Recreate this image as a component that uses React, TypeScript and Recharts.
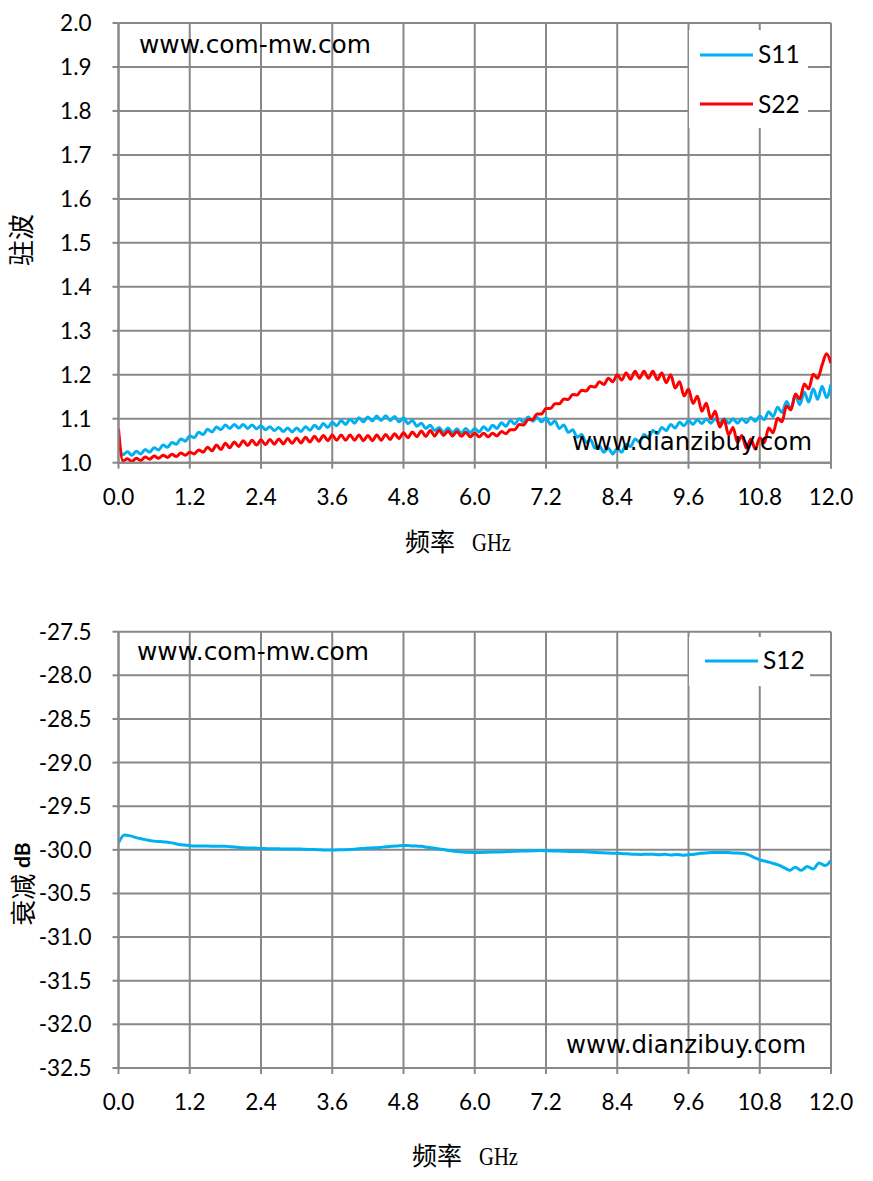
import React from 'react';
import { LineChart, Line, XAxis, YAxis, CartesianGrid } from 'recharts';

// ---------- tick labels ----------
const xTicks = [0, 1.2, 2.4, 3.6, 4.8, 6.0, 7.2, 8.4, 9.6, 10.8, 12.0];
const vswrTicks = [1.0, 1.1, 1.2, 1.3, 1.4, 1.5, 1.6, 1.7, 1.8, 1.9, 2.0];
const attTicks = [-32.5, -32.0, -31.5, -31.0, -30.5, -30.0, -29.5, -29.0, -28.5, -28.0, -27.5];

// ---------- series (top chart: 0.075 GHz steps, 0 .. 12 GHz) ----------
const S11 = [
  1.045, 1.018, 1.025, 1.017, 1.026, 1.020, 1.030, 1.024, 1.034, 1.029,
  1.040, 1.035, 1.046, 1.042, 1.054, 1.049, 1.061, 1.057, 1.069, 1.064,
  1.076, 1.070, 1.081, 1.075, 1.086, 1.078, 1.087, 1.079, 1.087, 1.078,
  1.086, 1.077, 1.084, 1.075, 1.082, 1.073, 1.080, 1.071, 1.079, 1.070,
  1.079, 1.071, 1.082, 1.074, 1.085, 1.077, 1.089, 1.080, 1.092, 1.084,
  1.096, 1.087, 1.099, 1.090, 1.102, 1.093, 1.104, 1.095, 1.106, 1.096,
  1.107, 1.096, 1.105, 1.093, 1.102, 1.089, 1.096, 1.083, 1.090, 1.078,
  1.085, 1.073, 1.080, 1.069, 1.079, 1.068, 1.077, 1.067, 1.078, 1.068,
  1.078, 1.070, 1.082, 1.073, 1.085, 1.078, 1.091, 1.083, 1.096, 1.088,
  1.100, 1.092, 1.104, 1.094, 1.103, 1.093, 1.102, 1.087, 1.095, 1.078,
  1.086, 1.069, 1.075, 1.058, 1.064, 1.046, 1.052, 1.033, 1.038, 1.024,
  1.033, 1.020, 1.032, 1.024, 1.042, 1.037, 1.054, 1.047, 1.064, 1.057,
  1.073, 1.066, 1.080, 1.073, 1.087, 1.079, 1.092, 1.084, 1.096, 1.087,
  1.098, 1.089, 1.100, 1.090, 1.100, 1.090, 1.100, 1.090, 1.100, 1.090,
  1.100, 1.091, 1.103, 1.094, 1.106, 1.098, 1.116, 1.105, 1.126, 1.114,
  1.139, 1.123, 1.152, 1.132, 1.160, 1.138, 1.168, 1.144, 1.174, 1.148,
  1.178,
];

const S22 = [
  1.077, 1.004, 1.009, 1.003, 1.010, 1.005, 1.013, 1.008, 1.015, 1.010,
  1.017, 1.012, 1.019, 1.014, 1.022, 1.017, 1.024, 1.020, 1.029, 1.024,
  1.035, 1.027, 1.040, 1.030, 1.044, 1.034, 1.047, 1.037, 1.050, 1.039,
  1.051, 1.040, 1.052, 1.041, 1.053, 1.042, 1.054, 1.043, 1.055, 1.044,
  1.056, 1.045, 1.058, 1.047, 1.060, 1.049, 1.062, 1.050, 1.063, 1.051,
  1.063, 1.051, 1.063, 1.051, 1.063, 1.050, 1.062, 1.050, 1.063, 1.051,
  1.064, 1.053, 1.066, 1.055, 1.068, 1.057, 1.070, 1.059, 1.072, 1.060,
  1.073, 1.061, 1.074, 1.062, 1.072, 1.061, 1.071, 1.060, 1.069, 1.059,
  1.067, 1.059, 1.067, 1.059, 1.067, 1.061, 1.071, 1.066, 1.075, 1.075,
  1.087, 1.086, 1.098, 1.098, 1.111, 1.111, 1.123, 1.123, 1.134, 1.134,
  1.145, 1.144, 1.155, 1.154, 1.165, 1.163, 1.174, 1.172, 1.184, 1.178,
  1.192, 1.184, 1.200, 1.188, 1.204, 1.190, 1.208, 1.192, 1.208, 1.192,
  1.208, 1.189, 1.204, 1.182, 1.200, 1.170, 1.184, 1.152, 1.167, 1.135,
  1.151, 1.117, 1.135, 1.100, 1.117, 1.081, 1.098, 1.063, 1.080, 1.046,
  1.062, 1.033, 1.054, 1.031, 1.057, 1.045, 1.079, 1.068, 1.101, 1.093,
  1.129, 1.120, 1.156, 1.145, 1.179, 1.168, 1.201, 1.192, 1.222, 1.248,
  1.226,
];

// ---------- series (bottom chart: 0.1 GHz steps, 0 .. 12 GHz) ----------
const S12 = [
  -29.92, -29.83, -29.84, -29.86, -29.875, -29.89, -29.9, -29.905, -29.91, -29.92,
  -29.935, -29.945, -29.952, -29.955, -29.955, -29.957, -29.958, -29.96, -29.96, -29.965,
  -29.97, -29.975, -29.978, -29.98, -29.985, -29.986, -29.987, -29.988, -29.99, -29.99,
  -29.99, -29.992, -29.995, -29.997, -30.0, -30.002, -30.003, -30.0, -29.998, -29.995,
  -29.99, -29.985, -29.98, -29.977, -29.973, -29.965, -29.96, -29.955, -29.95, -29.952,
  -29.955, -29.96, -29.97, -29.98, -29.99, -30.0, -30.01, -30.018, -30.024, -30.028,
  -30.03, -30.03, -30.028, -30.026, -30.024, -30.022, -30.018, -30.016, -30.014, -30.012,
  -30.01, -30.008, -30.01, -30.012, -30.014, -30.016, -30.018, -30.019, -30.02, -30.024,
  -30.028, -30.032, -30.035, -30.038, -30.04, -30.044, -30.047, -30.05, -30.052, -30.05,
  -30.05, -30.055, -30.05, -30.06, -30.052, -30.062, -30.055, -30.05, -30.04, -30.035,
  -30.03, -30.03, -30.03, -30.032, -30.035, -30.04, -30.055, -30.085, -30.115, -30.13,
  -30.15, -30.17, -30.2, -30.235, -30.2, -30.235, -30.19, -30.22, -30.15, -30.18,
  -30.12,
];

const freqTop = S11.map((_, i) => Math.round(i * 75) / 1000);
const freqBottom = S12.map((_, i) => Math.round(i * 10) / 100);

const topData = freqTop.map((f, i) => ({ f, S11: S11[i], S22: S22[i] }));
const bottomData = freqBottom.map((f, i) => ({ f, S12: S12[i] }));

const GRID = '#888888';
const BLUE = '#00B0F0';
const RED = '#FF0000';
const TICK_FONT = 'Lato, "Open Sans", sans-serif';
const WM_FONT = '"DejaVu Sans", Verdana, sans-serif';
const CJK_FONT = '"Noto Sans CJK SC", sans-serif';

const tickStyle = { fontSize: 22.5, fontFamily: TICK_FONT, fill: '#000' };
const fmt1 = (v: number) => v.toFixed(1);

function axisCommon() {
  return {
    tick: tickStyle,
    tickLine: { stroke: GRID, strokeWidth: 2 },
    axisLine: { stroke: GRID, strokeWidth: 2 },
    tickSize: 6,
    interval: 0 as const,
    tickFormatter: fmt1,
    allowDataOverflow: true,
  };
}

export default function App() {
  return (
    <div style={{ position: 'absolute', left: 0, top: 0, width: 873, height: 1181, background: '#fff' }}>
      <div style={{ position: 'absolute', left: 0, top: 0 }}>
        <LineChart width={873} height={560} data={topData}
          margin={{ top: 23, right: 42, left: 68.5, bottom: 57.3 }}>
          <CartesianGrid stroke={GRID} strokeWidth={2} />
          <XAxis dataKey="f" type="number" domain={[0, 12]} ticks={xTicks} height={40}
            tickMargin={20} {...axisCommon()} />
          <YAxis type="number" domain={[1, 2]} ticks={vswrTicks} width={50}
            tickMargin={21} {...axisCommon()} />
          <Line dataKey="S11" type="monotone" stroke={BLUE} strokeWidth={3} dot={false}
            isAnimationActive={false} />
          <Line dataKey="S22" type="monotone" stroke={RED} strokeWidth={3} dot={false}
            isAnimationActive={false} />
        </LineChart>
      </div>
      <div style={{ position: 'absolute', left: 0, top: 600 }}>
        <LineChart width={873} height={560} data={bottomData}
          margin={{ top: 31.7, right: 42, left: 68.5, bottom: 52 }}>
          <CartesianGrid stroke={GRID} strokeWidth={2} />
          <XAxis dataKey="f" type="number" domain={[0, 12]} ticks={xTicks} height={40}
            tickMargin={20} {...axisCommon()} />
          <YAxis type="number" domain={[-32.5, -27.5]} ticks={attTicks} width={50}
            tickMargin={21} {...axisCommon()} />
          <Line dataKey="S12" type="monotone" stroke={BLUE} strokeWidth={3} dot={false}
            isAnimationActive={false} />
        </LineChart>
      </div>
      <svg width={873} height={1181} style={{ position: 'absolute', left: 0, top: 0, pointerEvents: 'none' }}>
        {/* watermarks */}
        <text x={139} y={53} fontFamily={WM_FONT} fontSize={24.5} textLength={232}
          lengthAdjust="spacingAndGlyphs" fill="#000">www.com-mw.com</text>
        <text x={572} y={450} fontFamily={WM_FONT} fontSize={24.5} textLength={240}
          lengthAdjust="spacingAndGlyphs" fill="#000">www.dianzibuy.com</text>
        <text x={137} y={660} fontFamily={WM_FONT} fontSize={24.5} textLength={232}
          lengthAdjust="spacingAndGlyphs" fill="#000">www.com-mw.com</text>
        <text x={566} y={1053} fontFamily={WM_FONT} fontSize={24.5} textLength={240}
          lengthAdjust="spacingAndGlyphs" fill="#000">www.dianzibuy.com</text>

        {/* legend top */}
        <rect x={689} y={30} width={119} height={98} fill="#fff" />
        <line x1={700} x2={753} y1={55} y2={55} stroke={BLUE} strokeWidth={3} />
        <text x={758} y={63.3} fontFamily={TICK_FONT} fontSize={24.5} fill="#000">S11</text>
        <line x1={700} x2={753} y1={104} y2={104} stroke={RED} strokeWidth={3} />
        <text x={758} y={112.7} fontFamily={TICK_FONT} fontSize={24.5} fill="#000">S22</text>

        {/* legend bottom */}
        <rect x={689} y={637} width={121} height={49} fill="#fff" />
        <line x1={705} x2={758} y1={661} y2={661} stroke={BLUE} strokeWidth={3} />
        <text x={763} y={669.3} fontFamily={TICK_FONT} fontSize={24.5} fill="#000">S12</text>

        {/* axis titles */}
        <text transform="translate(19,240) rotate(-90)" textAnchor="middle" dominantBaseline="central"
          fontFamily={CJK_FONT} fontSize={26} fill="#000">驻波</text>
        <text x={405} y={551} fontFamily={CJK_FONT} fontSize={25} fill="#000">频率</text>
        <text x={472} y={551} fontFamily='"Liberation Serif", serif' fontSize={26} textLength={39}
          lengthAdjust="spacingAndGlyphs" fill="#000">GHz</text>

        <text transform="translate(21,884) rotate(-90)" textAnchor="middle" dominantBaseline="central" fill="#000">
          <tspan fontFamily={CJK_FONT} fontSize={26}>衰减 </tspan>
          <tspan fontFamily={TICK_FONT} fontSize={21} fontWeight="bold">dB</tspan>
        </text>
        <text x={412} y={1165} fontFamily={CJK_FONT} fontSize={25} fill="#000">频率</text>
        <text x={479} y={1165} fontFamily='"Liberation Serif", serif' fontSize={26} textLength={39}
          lengthAdjust="spacingAndGlyphs" fill="#000">GHz</text>
      </svg>
    </div>
  );
}
